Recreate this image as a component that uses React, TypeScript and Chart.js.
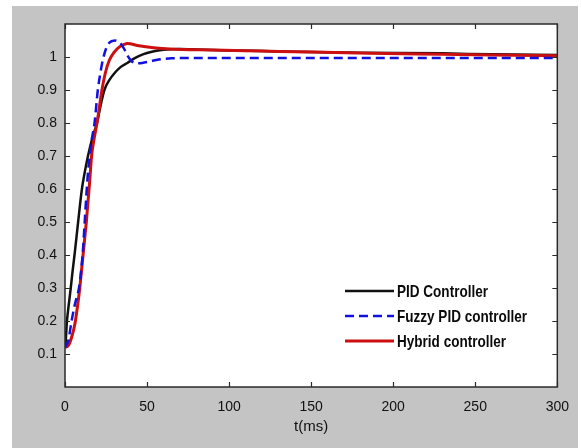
import React, { useEffect, useRef } from "react";
import { Chart, registerables } from "chart.js";

Chart.register(...registerables);

// ---- Data ----
const xTicks = [0, 50, 100, 150, 200, 250, 300];
const yTicks = [0.1, 0.2, 0.3, 0.4, 0.5, 0.6, 0.7, 0.8, 0.9, 1];

const pidTime = [0, 0.3, 1.2, 2.3, 3.5, 4.6, 5.8, 8, 10.3, 12, 14, 17, 19.5, 22, 24, 27, 30, 34, 38, 42, 46, 50, 55, 60, 70, 80, 100, 120, 150, 180, 230, 260, 300];
const pidValues = [0.12, 0.13, 0.2, 0.25, 0.3, 0.35, 0.4, 0.5, 0.6, 0.65, 0.7, 0.76, 0.8, 0.86, 0.9, 0.93, 0.95, 0.97, 0.982, 0.995, 1.005, 1.012, 1.018, 1.022, 1.024, 1.023, 1.02, 1.018, 1.015, 1.013, 1.011, 1.008, 1.006];

const fuzzyTime = [0, 2, 4, 6, 8.5, 10, 11, 12, 13, 14, 16, 18, 20, 21.5, 23, 25, 27, 29, 30.5, 32, 34, 36, 38, 40.5, 43.5, 47, 52, 58, 65, 80, 120, 200, 300];
const fuzzyValues = [0.12, 0.14, 0.2, 0.25, 0.3, 0.36, 0.42, 0.5, 0.58, 0.65, 0.74, 0.8, 0.9, 0.95, 0.99, 1.025, 1.043, 1.049, 1.05, 1.048, 1.04, 1.025, 1.005, 0.988, 0.981, 0.982, 0.987, 0.993, 0.996, 0.997, 0.997, 0.997, 0.997];

const hybridTime = [0, 2, 4, 6, 7.5, 9, 10, 11, 12, 13, 14, 15, 16.2, 18, 19.5, 21, 22.5, 24.5, 27, 30, 33, 36, 38, 45, 54, 64, 90, 120, 150, 186, 230, 260, 300];
const hybridValues = [0.12, 0.125, 0.15, 0.19, 0.24, 0.3, 0.35, 0.4, 0.45, 0.5, 0.56, 0.62, 0.7, 0.76, 0.8, 0.85, 0.9, 0.95, 0.99, 1.015, 1.03, 1.038, 1.041, 1.034, 1.028, 1.024, 1.021, 1.018, 1.015, 1.011, 1.008, 1.006, 1.004];

const seriesNames = ["PID Controller", "Fuzzy PID controller", "Hybrid controller"];
const xTitle = "t(ms)";

const toPoints = (xs: number[], ys: number[]) => xs.map((x, i) => ({ x, y: ys[i] }));

const COLORS = { pid: "#111111", fuzzy: "#1010e0", hybrid: "#cc1010" };
const LEGEND_FONT = "bold 17px 'Liberation Sans', Arial, sans-serif";

const decorPlugin = {
  id: "decor",
  beforeDraw(chart: any) {
    const { ctx, width, height, chartArea } = chart;
    ctx.save();
    ctx.fillStyle = "#ffffff";
    ctx.fillRect(0, 0, width, height);
    ctx.fillStyle = "#c4c4c4";
    ctx.fillRect(12, 6, 566, height - 6);
    ctx.fillStyle = "#ffffff";
    ctx.fillRect(chartArea.left, chartArea.top, chartArea.right - chartArea.left, chartArea.bottom - chartArea.top);
    ctx.restore();
  },
  afterDraw(chart: any) {
    const { ctx, chartArea } = chart;
    const xs = chart.scales.x;
    const ys = chart.scales.y;
    const { left, right, top, bottom } = chartArea;
    ctx.save();
    // frame
    ctx.strokeStyle = "#2a2a2a";
    ctx.lineWidth = 1.5;
    ctx.strokeRect(left, top, right - left, bottom - top);
    // inside ticks
    ctx.lineWidth = 1.2;
    const tl = 5;
    ctx.beginPath();
    xTicks.forEach((v) => {
      const px = Math.round(xs.getPixelForValue(v)) + 0.5;
      ctx.moveTo(px, bottom);
      ctx.lineTo(px, bottom - tl);
      ctx.moveTo(px, top);
      ctx.lineTo(px, top + tl);
    });
    yTicks.forEach((v) => {
      const py = Math.round(ys.getPixelForValue(v)) + 0.5;
      ctx.moveTo(left, py);
      ctx.lineTo(left + tl, py);
      ctx.moveTo(right, py);
      ctx.lineTo(right - tl, py);
    });
    ctx.stroke();

    // x title
    ctx.fillStyle = "#111111";
    ctx.font = "15px 'Liberation Sans', Arial, sans-serif";
    ctx.textAlign = "center";
    ctx.textBaseline = "middle";
    ctx.fillText(xTitle, (left + right) / 2, 427);

    // legend: bold condensed text ("PID Controller" spans ~91px)
    ctx.font = LEGEND_FONT;
    const sx = 91 / ctx.measureText(seriesNames[0]).width;
    const colors = [COLORS.pid, COLORS.fuzzy, COLORS.hybrid];
    const dashes = [[], [9, 5], []];
    const rowsY = [291, 316, 341];
    ctx.textAlign = "left";
    seriesNames.forEach((name, i) => {
      ctx.beginPath();
      ctx.setLineDash(dashes[i]);
      ctx.strokeStyle = colors[i];
      ctx.lineWidth = i === 2 ? 3 : 2.5;
      ctx.moveTo(345, rowsY[i]);
      ctx.lineTo(394, rowsY[i]);
      ctx.stroke();
      ctx.setLineDash([]);
      ctx.save();
      ctx.translate(397, rowsY[i] + 1);
      ctx.scale(sx, 1);
      ctx.fillStyle = "#0a0a0a";
      ctx.fillText(name, 0, 0);
      ctx.restore();
    });
    ctx.restore();
  },
};

export default function App() {
  const canvasRef = useRef<HTMLCanvasElement | null>(null);

  useEffect(() => {
    document.body.style.margin = "0";
    const canvas = canvasRef.current;
    if (!canvas) return;
    const chart = new Chart(canvas, {
      type: "line",
      data: {
        datasets: [
          {
            label: seriesNames[0],
            data: toPoints(pidTime, pidValues),
            borderColor: COLORS.pid,
            borderWidth: 2.5,
            pointRadius: 0,
            cubicInterpolationMode: "monotone",
            order: 3,
          },
          {
            label: seriesNames[1],
            data: toPoints(fuzzyTime, fuzzyValues),
            borderColor: COLORS.fuzzy,
            borderWidth: 2.5,
            borderDash: [9, 5],
            pointRadius: 0,
            cubicInterpolationMode: "monotone",
            order: 1,
          },
          {
            label: seriesNames[2],
            data: toPoints(hybridTime, hybridValues),
            borderColor: COLORS.hybrid,
            borderWidth: 3,
            pointRadius: 0,
            cubicInterpolationMode: "monotone",
            order: 2,
          },
        ],
      },
      options: {
        animation: false,
        responsive: true,
        maintainAspectRatio: false,
        layout: { padding: { left: 0, top: 24, right: 23, bottom: 0 } },
        plugins: { legend: { display: false }, tooltip: { enabled: false } },
        scales: {
          x: {
            type: "linear",
            min: 0,
            max: 300,
            afterFit: (s: any) => {
              s.height = 61;
            },
            afterBuildTicks: (s: any) => {
              s.ticks = xTicks.map((v) => ({ value: v }));
            },
            grid: { display: false, drawTicks: false },
            border: { display: false },
            ticks: {
              color: "#111111",
              font: { size: 14, family: "'Liberation Sans', Arial, sans-serif" },
              padding: 12,
              maxRotation: 0,
              callback: (v: any) => String(v),
            },
          },
          y: {
            type: "linear",
            min: 0,
            max: 1.1,
            afterFit: (s: any) => {
              s.width = 65;
            },
            afterBuildTicks: (s: any) => {
              s.ticks = yTicks.map((v) => ({ value: v }));
            },
            grid: { display: false, drawTicks: false },
            border: { display: false },
            ticks: {
              color: "#111111",
              font: { size: 14, family: "'Liberation Sans', Arial, sans-serif" },
              padding: 8,
              callback: (v: any) => String(Number(Number(v).toFixed(1))),
            },
          },
        },
      },
      plugins: [decorPlugin],
    });
    return () => chart.destroy();
  }, []);

  return (
    <div style={{ position: "absolute", left: 0, top: 0, width: 581, height: 448 }}>
      <canvas ref={canvasRef} />
    </div>
  );
}
